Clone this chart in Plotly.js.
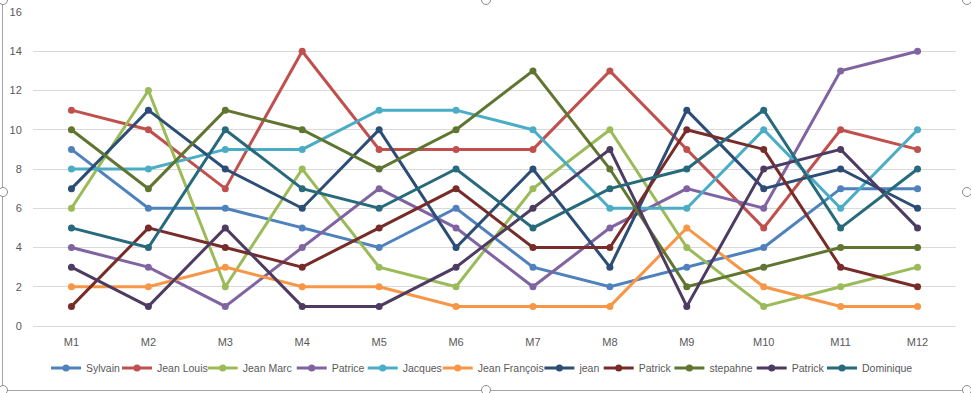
<!DOCTYPE html>
<html>
<head>
<meta charset="utf-8">
<script src="https://cdn.plot.ly/plotly-3.0.1.min.js"></script>
<style>
  html, body { margin: 0; padding: 0; background: #fff; }
  #wrap { position: relative; width: 971px; height: 393px; overflow: hidden; }
  #chart { position: absolute; left: 0; top: 0; width: 971px; height: 393px; }
  .fl { position: absolute; background: #a6a6a6; }
  .hd { position: absolute; width: 8px; height: 8px; border-radius: 50%; border: 1.5px solid #8c8c8c; background: #fff; }
</style>
</head>
<body>
<div id="wrap">
  <div id="chart"></div>
</div>
<script>
const months = ["M1","M2","M3","M4","M5","M6","M7","M8","M9","M10","M11","M12"];
const names = ["Sylvain","Jean Louis","Jean Marc","Patrice","Jacques","Jean François","jean","Patrick","stepahne","Patrick","Dominique"];
const sylvain      = [9, 6, 6, 5, 4, 6, 3, 2, 3, 4, 7, 7];
const jeanLouis    = [11, 10, 7, 14, 9, 9, 9, 13, 9, 5, 10, 9];
const jeanMarc     = [6, 12, 2, 8, 3, 2, 7, 10, 4, 1, 2, 3];
const patrice      = [4, 3, 1, 4, 7, 5, 2, 5, 7, 6, 13, 14];
const jacques      = [8, 8, 9, 9, 11, 11, 10, 6, 6, 10, 6, 10];
const jeanFrancois = [2, 2, 3, 2, 2, 1, 1, 1, 5, 2, 1, 1];
const jean         = [7, 11, 8, 6, 10, 4, 8, 3, 11, 7, 8, 6];
const patrick1     = [1, 5, 4, 3, 5, 7, 4, 4, 10, 9, 3, 2];
const stepahne     = [10, 7, 11, 10, 8, 10, 13, 8, 2, 3, 4, 4];
const patrick2     = [3, 1, 5, 1, 1, 3, 6, 9, 1, 8, 9, 5];
const dominique    = [5, 4, 10, 7, 6, 8, 5, 7, 8, 11, 5, 8];
const seriesValues = [sylvain, jeanLouis, jeanMarc, patrice, jacques, jeanFrancois, jean, patrick1, stepahne, patrick2, dominique];
const colors = ["#4F81BD","#C0504D","#9BBB59","#8064A2","#4BACC6","#F79646","#2C4D75","#772C2A","#5F7530","#4D3B62","#276A7C"];
// legend entry widths (px) so the single legend row spaces like the original
const legendWidths = [26, 40.7, 44, 26, 30, 56.7, 14.3, 25.7, 37.3, 25.3, 45];

const traces = seriesValues.map((vals, i) => ({
  type: "scatter",
  mode: "lines+markers",
  name: names[i],
  x: months,
  y: vals,
  legendwidth: legendWidths[i],
  line: { color: colors[i], width: 3 },
  marker: { color: colors[i], size: 7, symbol: "circle" }
}));

const font = "Liberation Sans, Arial, sans-serif";
const layout = {
  width: 971, height: 393,
  margin: { l: 32.5, r: 14.5, t: 12, b: 67, autoexpand: false },
  paper_bgcolor: "rgba(0,0,0,0)",
  plot_bgcolor: "rgba(0,0,0,0)",
  showlegend: true,
  font: { family: font, size: 11, color: "#595959" },
  xaxis: {
    type: "category",
    range: [-0.5, 11.5],
    showgrid: false,
    zeroline: false,
    showline: false,
    ticks: "outside",
    ticklen: 6,
    tickcolor: "rgba(0,0,0,0)",
    tickfont: { family: font, size: 11, color: "#595959" },
    fixedrange: true
  },
  yaxis: {
    range: [0, 16],
    dtick: 2,
    tick0: 0,
    showgrid: true,
    gridcolor: "#D9D9D9",
    gridwidth: 1,
    zeroline: true,
    zerolinecolor: "#D9D9D9",
    zerolinewidth: 1,
    showline: false,
    ticks: "outside",
    ticklen: 8,
    tickcolor: "rgba(0,0,0,0)",
    tickfont: { family: font, size: 11, color: "#595959" },
    fixedrange: true
  },
  legend: {
    orientation: "h",
    xref: "container",
    x: 46 / 971, xanchor: "left",
    y: -0.134, yanchor: "middle",
    font: { family: font, size: 10.5, color: "#595959" },
    itemwidth: 30,
    tracegroupgap: 0,
    bgcolor: "rgba(0,0,0,0)"
  }
};

Plotly.newPlot("chart", traces, layout, { displayModeBar: false, staticPlot: true }).then(() => {
  const wrap = document.getElementById("wrap");
  const addLine = (l, t, w, h) => { const d = document.createElement("div"); d.className = "fl"; d.style.left = l + "px"; d.style.top = t + "px"; d.style.width = w + "px"; d.style.height = h + "px"; wrap.appendChild(d); };
  addLine(2, 0, 1, 391);
  addLine(2, 390, 966, 1);
  const handles = [[3,0],[486,0],[967,0],[3,192],[967,192],[3,390],[486,390],[967,390]];
  handles.forEach(([x, y]) => { const h = document.createElement("div"); h.className = "hd"; h.style.left = (x - 5.5) + "px"; h.style.top = (y - 5.5) + "px"; wrap.appendChild(h); });
});
</script>
</body>
</html>
